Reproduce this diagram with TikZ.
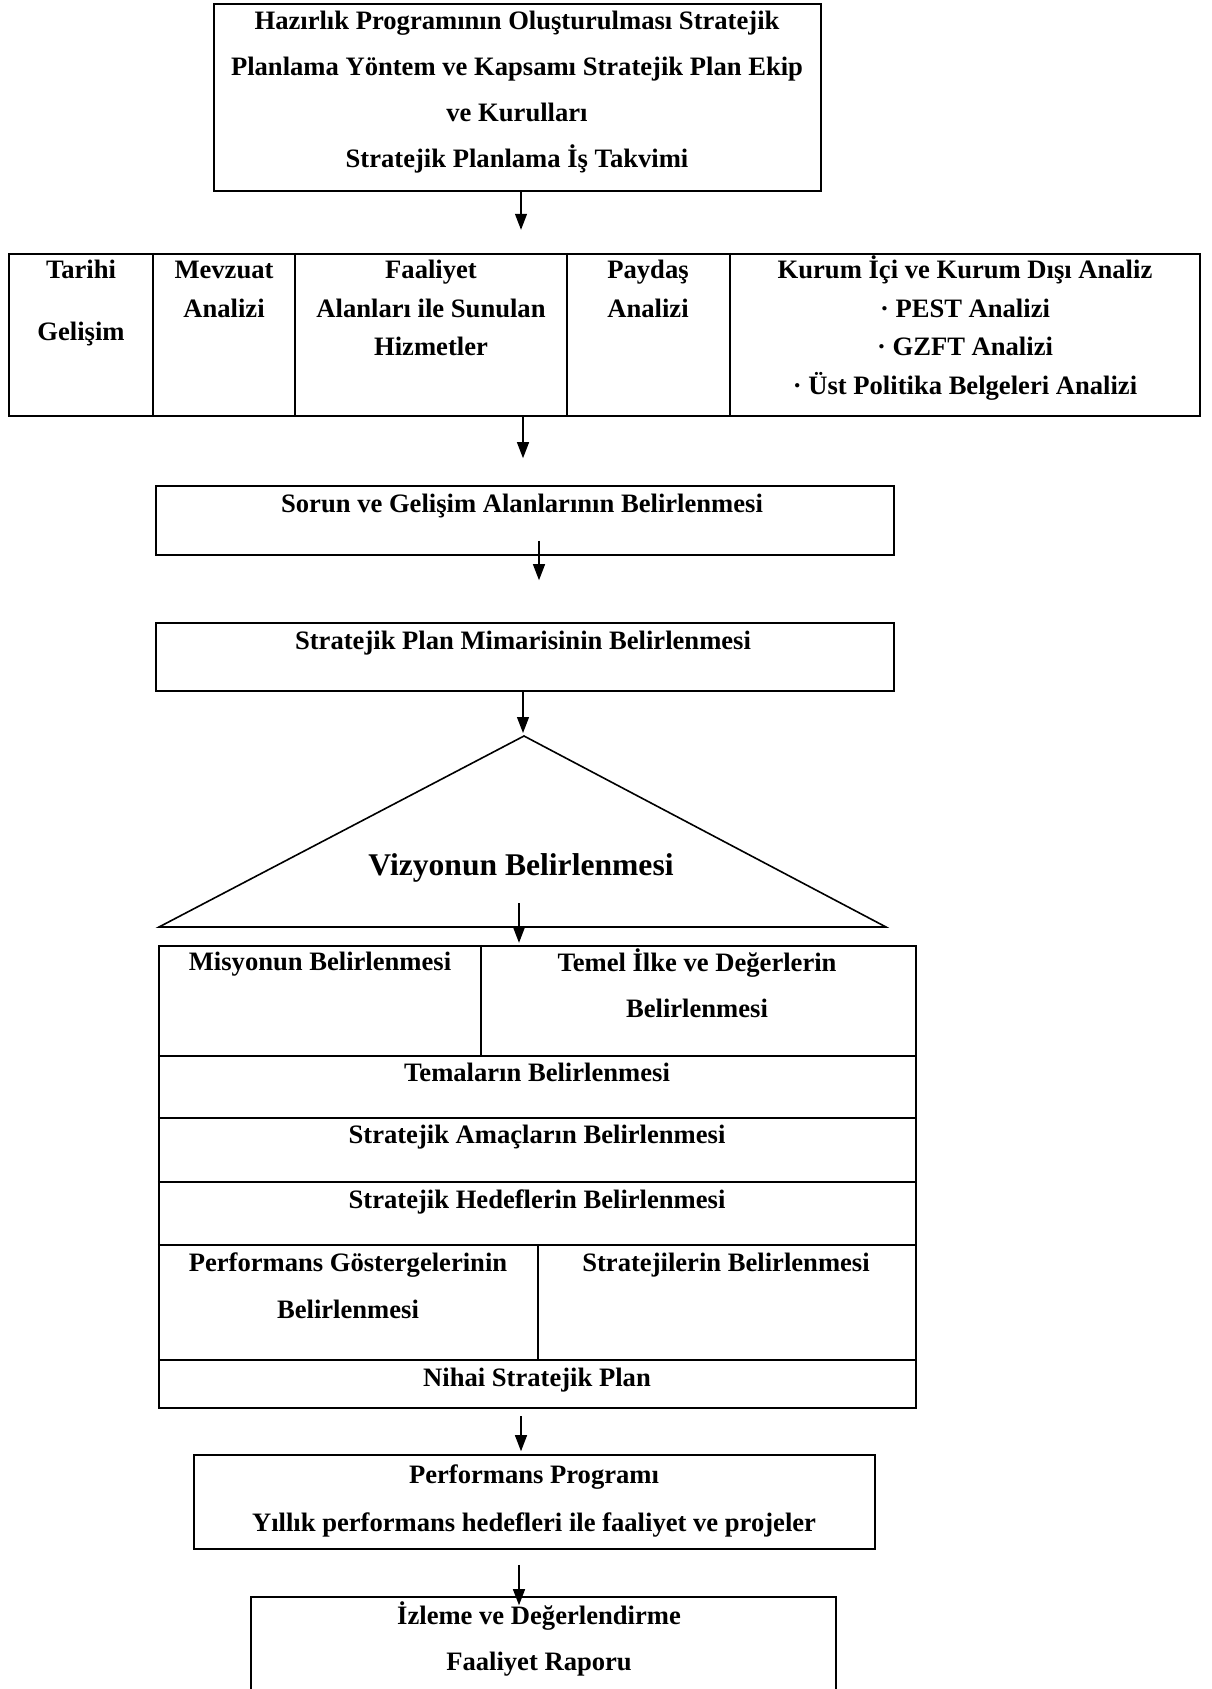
\documentclass[tikz,border=0pt]{standalone}
\usepackage{fontspec}
\setmainfont{Liberation Serif}
\usetikzlibrary{arrows.meta,fit}

\newcommand{\stack}[1]{\begin{tabular}[t]{@{}c@{}}#1\end{tabular}}

\begin{document}
\begin{tikzpicture}[x=0.5pt, y=-0.5pt,
    box/.style={draw, line width=0.8pt, inner sep=0pt},
    cell/.style={draw, line width=1.2pt, inner sep=0pt},
    txt/.style={anchor=base, inner sep=0pt, font=\fontsize{13.3}{23}\selectfont\bfseries},
    small/.style={txt, font=\fontsize{13.3}{19.2}\selectfont\bfseries},
    flow/.style={-{Triangle[width=6pt,length=8pt]}, line width=0.6pt}]
    \useasboundingbox (0,0) rectangle (1211,1689);
    \clip (0,0) rectangle (1211,1689);

    % hazirlik
    \node[box, fit={(214,4) (821,191)}] (prep) {};
    \node[txt] (prepText) at (517,30) {\stack{Hazırlık Programının Oluşturulması Stratejik\\ Planlama Yöntem ve Kapsamı Stratejik Plan Ekip\\ ve Kurulları\\ Stratejik Planlama İş Takvimi}};

    % analizler
    \node[cell, fit={(9,254) (1200,416)}] (analysis) {};
    \draw[line width=1.2pt] (analysis.north -| 153,0) -- (analysis.south -| 153,0);
    \draw[line width=1.2pt] (analysis.north -| 295,0) -- (analysis.south -| 295,0);
    \draw[line width=1.2pt] (analysis.north -| 567,0) -- (analysis.south -| 567,0);
    \draw[line width=1.2pt] (analysis.north -| 730,0) -- (analysis.south -| 730,0);
    \node[small] (history) at (81,279) {\stack{Tarihi\\[11.5pt] Gelişim}};
    \node[small] (law) at (224,279) {\stack{Mevzuat\\ Analizi}};
    \node[small] (services) at (431,279) {\stack{Faaliyet\\ Alanları ile Sunulan\\ Hizmetler}};
    \node[small] (stakeholder) at (648,279) {\stack{Paydaş\\ Analizi}};
    \node[small] (environment) at (965,279) {\stack{Kurum İçi ve Kurum Dışı Analiz\\ · PEST Analizi\\ · GZFT Analizi\\ · Üst Politika Belgeleri Analizi}};

    \node[box, fit={(156,486) (894,555)}] (issues) {};
    \node[txt] (issuesText) at (522,513) {Sorun ve Gelişim Alanlarının Belirlenmesi};

    \node[box, fit={(156,623) (894,691)}] (architecture) {};
    \node[txt] (architectureText) at (523,649) {Stratejik Plan Mimarisinin Belirlenmesi};

    % vizyon ucgeni
    \coordinate (apex) at (524,736);
    \coordinate (baseL) at (159,927);
    \coordinate (baseR) at (886,927);
    \draw[line width=0.8pt] (apex) -- (baseL) -- (baseR) -- cycle;
    \node[txt, font=\fontsize{15.8}{23}\selectfont\bfseries] (vision) at (521,875) {Vizyonun Belirlenmesi};

    % plan blogu
    \node[cell, fit={(159,946) (916,1408)}] (plan) {};
    \draw[line width=1.2pt] (plan.west |- 0,1056) -- (plan.east |- 0,1056);
    \draw[line width=1.2pt] (plan.west |- 0,1118) -- (plan.east |- 0,1118);
    \draw[line width=1.2pt] (plan.west |- 0,1182) -- (plan.east |- 0,1182);
    \draw[line width=1.2pt] (plan.west |- 0,1245) -- (plan.east |- 0,1245);
    \draw[line width=1.2pt] (plan.west |- 0,1360) -- (plan.east |- 0,1360);
    \draw[line width=1.2pt] (plan.north -| 481,0) -- (481,1056);
    \draw[line width=1.2pt] (538,1245) -- (538,1360);
    \node[txt] (mission) at (320,970) {Misyonun Belirlenmesi};
    \node[txt] (values) at (697,971) {\stack{Temel İlke ve Değerlerin\\ Belirlenmesi}};
    \node[txt] (themes) at (537,1081) {Temaların Belirlenmesi};
    \node[txt] (aims) at (537,1143) {Stratejik Amaçların Belirlenmesi};
    \node[txt] (targets) at (537,1208) {Stratejik Hedeflerin Belirlenmesi};
    \node[txt] (indicators) at (348,1271) {\stack{Performans Göstergelerinin\\[0.5pt] Belirlenmesi}};
    \node[txt] (strategies) at (726,1271) {Stratejilerin Belirlenmesi};
    \node[txt] (finalplan) at (537,1386) {Nihai Stratejik Plan};

    \node[box, fit={(194,1455) (875,1549)}] (perfprog) {};
    \node[txt] (perfprogText) at (534,1483) {\stack{Performans Programı\\[1pt] Yıllık performans hedefleri ile faaliyet ve projeler}};

    \node[box, fit={(251,1597) (836,1700)}] (monitoring) {};
    \node[txt] (monitoringText) at (539,1624) {\stack{İzleme ve Değerlendirme\\ Faaliyet Raporu}};

    % oklar
    \draw[flow, shorten >=11.5pt] ([xshift=1.75pt]prep.south) -- ([xshift=1.75pt]prep.south |- analysis.north);
    \draw[flow, shorten >=13.5pt] ([xshift=-1pt]issues.north |- analysis.south) -- ([xshift=-1pt]issues.north);
    \draw[flow, shorten >=21pt] ([xshift=7pt,yshift=7.5pt]issues.south) -- ([xshift=7pt]issues.south |- architecture.north);
    \draw[flow, shorten >=1.5pt] ([xshift=-1pt]architecture.south) -- ([xshift=-1pt]architecture.south |- apex);
    \draw[flow, shorten >=1pt] ([xshift=-1pt,yshift=-14pt]vision.base) -- ([xshift=-1pt]vision.base |- plan.north);
    \draw[flow, shorten >=1.5pt] ([xshift=-8.25pt,yshift=-3.5pt]plan.south) -- ([xshift=-8.25pt]plan.south |- perfprog.north);
    \draw[flow, shorten >=-4.5pt] ([xshift=-7.75pt,yshift=-7.5pt]perfprog.south) -- ([xshift=-7.75pt]perfprog.south |- monitoring.north);
\end{tikzpicture}
\end{document}
